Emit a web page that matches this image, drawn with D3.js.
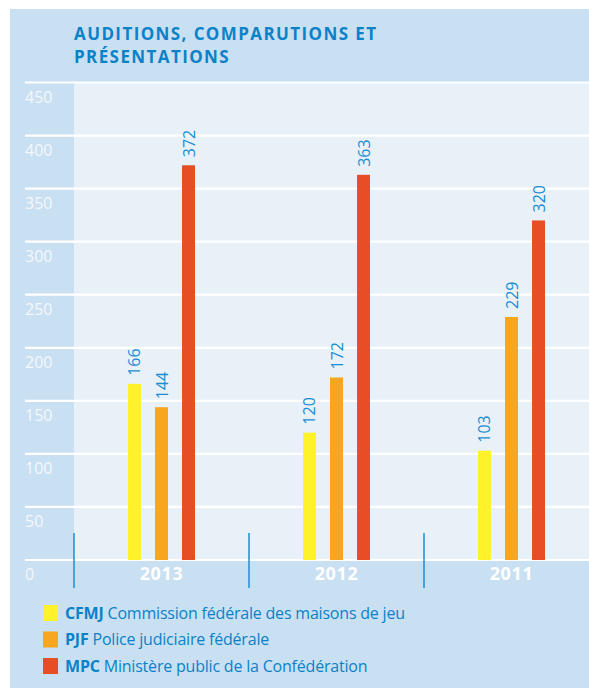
<!DOCTYPE html>
<html><head><meta charset="utf-8">
<script src="https://cdn.jsdelivr.net/npm/d3@7/dist/d3.min.js"></script>
<style>body{margin:0;background:#fff;} svg{display:block;}</style>
</head><body>
<script>
const years = ["2013", "2012", "2011"];
const seriesKeys = ["CFMJ", "PJF", "MPC"];
const seriesNames = ["Commission fédérale des maisons de jeu", "Police judiciaire fédérale", "Ministère public de la Confédération"];
const CFMJ = [166, 120, 103];
const PJF = [144, 172, 229];
const MPC = [372, 363, 320];
const yTicks = [0, 50, 100, 150, 200, 250, 300, 350, 400, 450];
const titleLines = ["AUDITIONS, COMPARUTIONS ET", "PRÉSENTATIONS"];
const colors = ["#fff22a", "#f8a51f", "#e84e25"];

const W = 589, H = 688;
const blue = "#0b82c8";
const font = "'Open Sans', 'Noto Sans', sans-serif";
const svg = d3.select("body").append("svg").attr("width", W).attr("height", H);

svg.append("rect").attr("x", 10).attr("y", 9).attr("width", W - 10).attr("height", H - 9).attr("fill", "#c9dff2");

const y = d3.scaleLinear().domain([0, 450]).range([560, 82.5]);
const x0 = d3.scaleBand().domain(years).range([74, 599]);
const x1 = d3.scaleBand().domain(seriesKeys).range([54, 121]).paddingInner(0.52);

// plot bg
svg.append("rect").attr("x", 74).attr("y", y(450)).attr("width", W - 74).attr("height", y(0) - y(450)).attr("fill", "#e8f0f8");

// gridlines
svg.append("g").selectAll("line").data(yTicks).join("line")
  .attr("x1", 25).attr("x2", W).attr("y1", d => y(d)).attr("y2", d => y(d))
  .attr("stroke", "#fff").attr("stroke-width", 2.2);
svg.append("g").selectAll("text").data(yTicks).join("text")
  .attr("x", 25).attr("y", d => y(d) + 20)
  .attr("fill", "#f4f8fc").attr("font-family", font).attr("font-size", 16)
  .text(d => d);

// title
svg.append("g").selectAll("text").data(titleLines).join("text")
  .attr("x", 74).attr("y", (d, i) => 40 + i * 23)
  .attr("fill", blue).attr("font-family", font).attr("font-weight", 700)
  .attr("font-size", 17).attr("letter-spacing", 1.4).text(d => d);

const data = years.map((yr, i) => ({yr, vals: [CFMJ[i], PJF[i], MPC[i]]}));
const g = svg.append("g").selectAll("g").data(data).join("g")
  .attr("transform", d => `translate(${x0(d.yr)},0)`);
g.selectAll("rect").data(d => d.vals.map((v, k) => ({v, k: seriesKeys[k], c: colors[k]}))).join("rect")
  .attr("x", d => x1(d.k)).attr("width", x1.bandwidth())
  .attr("y", d => y(d.v)).attr("height", d => y(0) - y(d.v)).attr("fill", d => d.c);
g.selectAll("text.val").data(d => d.vals.map((v, k) => ({v, k: seriesKeys[k]}))).join("text")
  .attr("class", "val")
  .attr("transform", d => `translate(${x1(d.k) + x1.bandwidth() / 2 + 6},${y(d.v) - 8}) rotate(-90)`)
  .attr("fill", "#1b8dd4").attr("font-family", font).attr("font-size", 16)
  .text(d => d.v);

// separators
svg.append("g").selectAll("line").data(years).join("line")
  .attr("x1", d => x0(d)).attr("x2", d => x0(d)).attr("y1", 533).attr("y2", 588)
  .attr("stroke", "#1a8fd6").attr("stroke-width", 1.5);
// year labels
svg.append("g").selectAll("text").data(years).join("text")
  .attr("x", d => x0(d) + x0.bandwidth() / 2).attr("y", 580)
  .attr("text-anchor", "middle").attr("fill", "#fff").attr("font-family", font)
  .attr("font-weight", 700).attr("font-size", 18).attr("letter-spacing", 0.6).text(d => d);

// legend
const lg = svg.append("g").selectAll("g").data(seriesKeys).join("g")
  .attr("transform", (d, i) => `translate(43,${605 + i * 26.5})`);
lg.append("rect").attr("width", 15).attr("height", 16).attr("fill", (d, i) => colors[i]);
const lt = lg.append("text").attr("x", 22).attr("y", 13.5).attr("fill", blue)
  .attr("font-family", font).attr("font-size", 16).attr("letter-spacing", -0.2);
lt.append("tspan").attr("font-weight", 700).text(d => d);
lt.append("tspan").text((d, i) => " " + seriesNames[i]);
</script>
</body></html>
